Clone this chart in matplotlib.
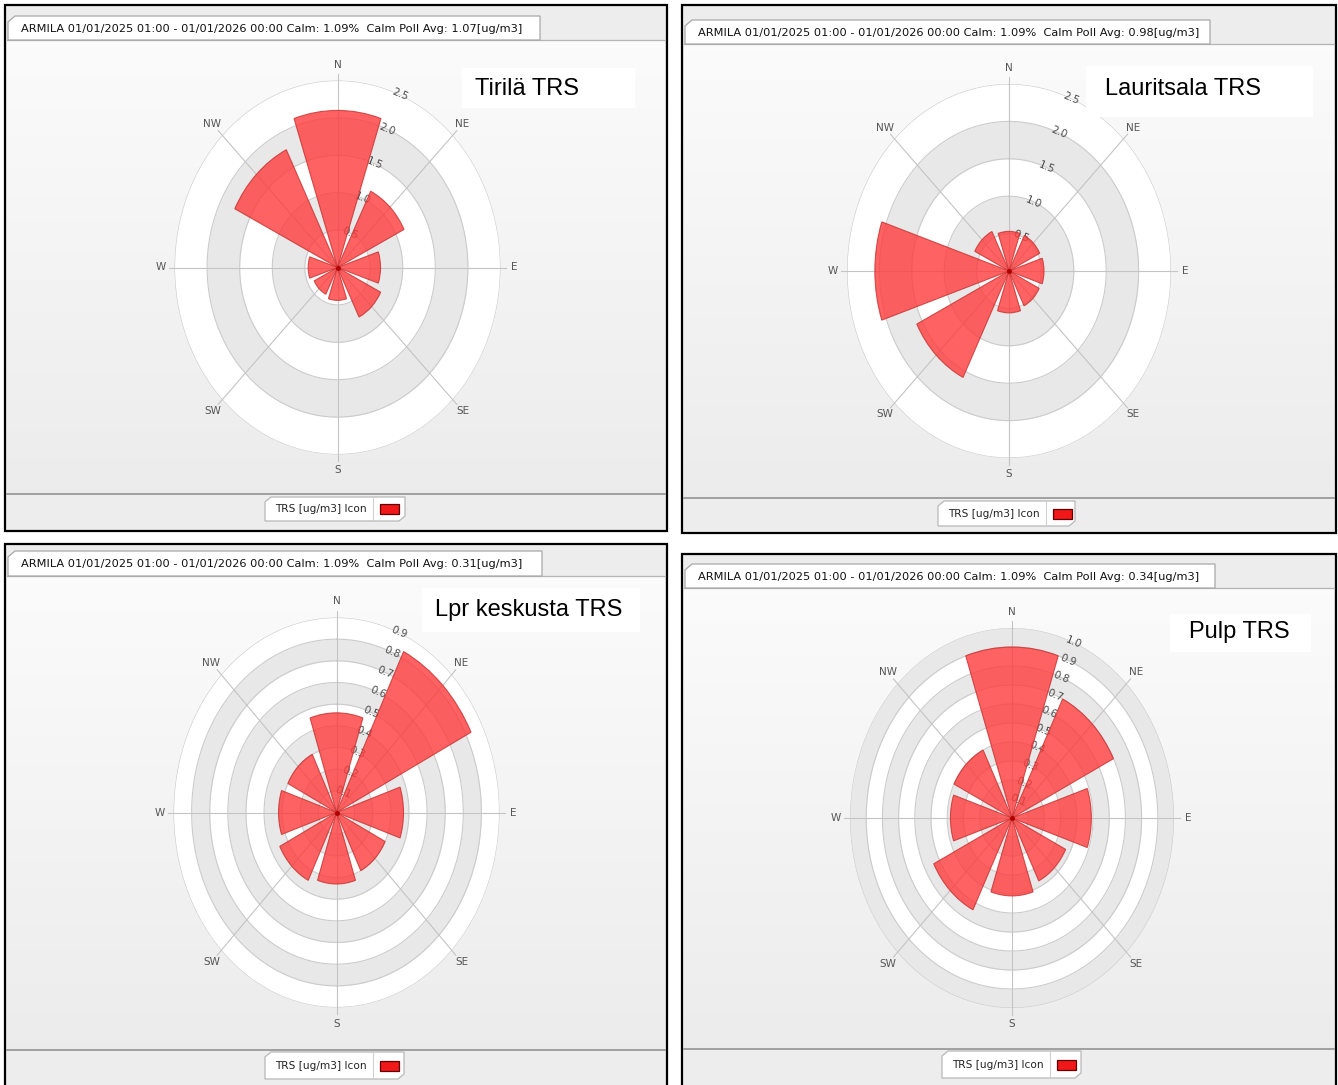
import numpy as np
import matplotlib.pyplot as plt
from matplotlib.patches import Rectangle, Polygon

plt.rcParams['font.family'] = ['DejaVu Sans']

W, H = 1338, 1085

# tuulensuunnat
directions = ['N', 'NE', 'E', 'SE', 'S', 'SW', 'W', 'NW']
angles_deg = [0, 45, 90, 135, 180, 225, 270, 315]

titles = ['Tirilä TRS', 'Lauritsala TRS', 'Lpr keskusta TRS', 'Pulp TRS']
calm_avg = ['1.07', '0.98', '0.31', '0.34']

# TRS pitoisuus suunnittain [ug/m3]
tirila = [2.10, 1.14, 0.66, 0.74, 0.44, 0.40, 0.45, 1.76]
lauritsala = [0.53, 0.53, 0.54, 0.52, 0.56, 1.59, 2.07, 0.59]
lpr_keskusta = [0.46, 0.83, 0.37, 0.30, 0.33, 0.35, 0.32, 0.30]
pulp = [0.90, 0.70, 0.49, 0.37, 0.41, 0.54, 0.38, 0.40]

ticks_big = [0.5, 1.0, 1.5, 2.0, 2.5]
ticks_lpr = [0.1, 0.2, 0.3, 0.4, 0.5, 0.6, 0.7, 0.8, 0.9]
ticks_pulp = [0.1, 0.2, 0.3, 0.4, 0.5, 0.6, 0.7, 0.8, 0.9, 1.0]

header_fmt = 'ARMILA 01/01/2025 01:00 - 01/01/2026 00:00 Calm: 1.09%  Calm Poll Avg: {}[ug/m3]'
legend_label = 'TRS [ug/m3] Icon'

# paneelien sijainnit pikseleinä
panels = [
    dict(frame=(5, 5, 667, 531), tab=(8, 16, 540, 40), area_bottom=494, leg=(265, 497, 405, 521),
         center=(337.5, 267.5), rx=163, ry=187, tbox=(462, 68, 635, 108), ttext=(475, 89)),
    dict(frame=(682, 5, 1336, 533), tab=(685, 20, 1210, 44), area_bottom=498, leg=(938, 501, 1075, 526),
         center=(1009, 271), rx=162, ry=187, tbox=(1086, 66, 1313, 117), ttext=(1105, 89)),
    dict(frame=(5, 544, 667, 1092), tab=(8, 551, 542, 576), area_bottom=1050, leg=(265, 1052, 404, 1079),
         center=(336.5, 812.5), rx=163, ry=195, tbox=(422, 588, 640, 632), ttext=(435, 610)),
    dict(frame=(682, 554, 1336, 1092), tab=(685, 564, 1215, 588), area_bottom=1049, leg=(942, 1051, 1081, 1078),
         center=(1012, 818), rx=162, ry=190, tbox=(1170, 614, 1311, 652), ttext=(1189, 632)),
]
values = [tirila, lauritsala, lpr_keskusta, pulp]
ticks = [ticks_big, ticks_big, ticks_lpr, ticks_pulp]

fig = plt.figure(figsize=(W / 100, H / 100), dpi=100)
fig.patch.set_facecolor('white')

bg = fig.add_axes([0, 0, 1, 1], zorder=-1)
ov = fig.add_axes([0, 0, 1, 1], zorder=10)
ov.patch.set_alpha(0)

grad = np.linspace(0.985, 0.925, 100)[:, None, None] * np.ones((100, 1, 3))

for p, vals, tk, title, avg in zip(panels, values, ticks, titles, calm_avg):
    x0, y0, x1, y1 = p['frame']
    bg.add_patch(Rectangle((x0, y0), x1 - x0, y1 - y0, fc='#ededed', ec='black', lw=1.6, zorder=0))
    tx0, ty0, tx1, ty1 = p['tab']
    ab = p['area_bottom']
    # piirtoalue
    bg.imshow(grad, extent=(x0 + 2, x1 - 2, ab, ty1), aspect='auto', zorder=1)
    bg.plot([x0 + 2, x1 - 2], [ty1, ty1], color='#b4b4b4', lw=0.9, zorder=2)
    bg.plot([x0 + 2, x1 - 2], [ab, ab], color='#9a9a9a', lw=1.3, zorder=2)
    # otsikkovälilehti
    bg.add_patch(Polygon([(tx0, ty1), (tx0, ty0 + 6), (tx0 + 7, ty0), (tx1, ty0), (tx1, ty1)],
                         closed=True, fc='white', ec='#a8a8a8', lw=0.9, zorder=3))
    bg.text(tx0 + 13, (ty0 + ty1) / 2 + 0.5, header_fmt.format(avg), fontsize=8.2, color='#111111',
            va='center', ha='left', zorder=4)
    # selite
    lx0, ly0, lx1, ly1 = p['leg']
    bg.add_patch(Polygon([(lx0, ly1), (lx0, ly0 + 5), (lx0 + 6, ly0), (lx1, ly0), (lx1, ly1 - 5), (lx1 - 6, ly1)],
                         closed=True, fc='white', ec='#b8b8b8', lw=0.9, zorder=3))
    lm = (ly0 + ly1) / 2
    bg.text(lx0 + 10, lm + 0.5, legend_label, fontsize=7.6, color='#222', va='center', ha='left', zorder=4)
    bg.plot([lx0 + 108, lx0 + 108], [ly0 + 1, ly1 - 1], color='#d0d0d0', lw=0.8, zorder=4)
    bg.add_patch(Rectangle((lx0 + 115, lm - 5), 19, 10, fc='#f01818', ec='#600000', lw=0.9, zorder=4))

    # tuuliruusu
    cx, cy = p['center']
    rx, ry = p['rx'], p['ry']
    ax = fig.add_axes([(cx - rx) / W, 1 - (cy + ry) / H, 2 * rx / W, 2 * ry / H], projection='polar', zorder=2)
    ax.set_aspect('auto')
    ax.set_theta_zero_location('N')
    ax.set_theta_direction(-1)
    rmax = tk[-1]
    ax.set_ylim(0, rmax)
    ax.set_axis_off()
    th = np.linspace(0, 2 * np.pi, 400)
    ax.fill_between(th, 0, rmax, color='white', lw=0, zorder=0)
    edges = [0] + tk
    for i in range(len(tk)):
        if i % 2 == 1:
            ax.fill_between(th, edges[i], edges[i + 1], color='#e8e8e8', lw=0, zorder=0.5)
    for t in tk:
        ax.plot(th, np.full_like(th, t), color='#cbcbcb', lw=0.8, zorder=1)
    for a, name in zip(angles_deg, directions):
        ax.plot([np.radians(a)] * 2, [0, rmax * 1.035], color='#c4c4c4', lw=0.8, zorder=1, clip_on=False)
        ax.text(np.radians(a), rmax * 1.085, name, fontsize=7.5, color='#555555', ha='center', va='center')
    for t in tk:
        ax.text(np.radians(22.5), t, f'{t:.1f}', fontsize=7.5, color='#4a4a4a', rotation=-22.5,
                ha='center', va='center', zorder=2)
    ax.bar(np.radians(angles_deg), vals, width=np.radians(37), color='#ff3b3b', alpha=0.8,
           edgecolor='#c83030', lw=0.8, zorder=4)
    ax.plot([0], [0], 'o', ms=2.5, color='#b00000', zorder=5)

    # aseman nimi
    bx0, by0, bx1, by1 = p['tbox']
    ov.add_patch(Rectangle((bx0, by0), bx1 - bx0, by1 - by0, fc='white', ec='none'))
    ov.text(p['ttext'][0], p['ttext'][1], title, fontsize=17, family='Liberation Sans', color='black',
            ha='left', va='center')

for a in (bg, ov):
    a.set_xlim(0, W)
    a.set_ylim(H, 0)
    a.axis('off')

plt.savefig('out.png', dpi=100)
